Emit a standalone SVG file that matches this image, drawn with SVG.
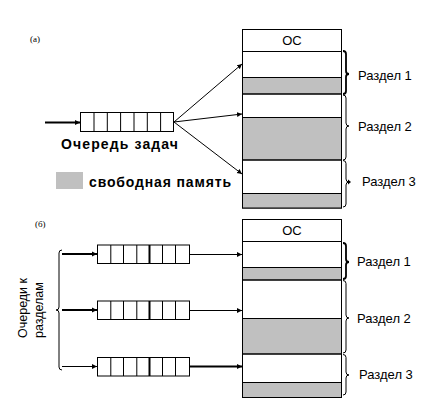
<svg xmlns="http://www.w3.org/2000/svg" width="426" height="413" viewBox="0 0 426 413">
<style>
.box{fill:#fff;stroke:#000;stroke-width:1}
.free{fill:#c0c0c0;stroke:#000;stroke-width:1}
.ln{stroke:#000;stroke-width:1;fill:none}
.thick{stroke:#000;stroke-width:2;fill:none}
.brace{stroke:#000;stroke-width:1;fill:none}
.t{font-family:"Liberation Sans",Arial,sans-serif;font-size:13px;fill:#000}
.r{font-family:"Liberation Sans",Arial,sans-serif;font-size:12.5px;fill:#000}
.b{font-family:"Liberation Sans",Arial,sans-serif;font-size:14px;font-weight:bold;fill:#000}
.s{font-family:"Liberation Serif","Times New Roman",serif;font-size:9px;fill:#000}
</style>
<defs>
<marker id="ah" markerWidth="6" markerHeight="6" refX="5" refY="3" orient="auto" markerUnits="userSpaceOnUse">
<path d="M0,0.5 L5,3 L0,5.5 Z" fill="#000"/>
</marker>
<g id="q7">
<rect class="box" x="0" y="0" width="92" height="18.5"/>
<path class="ln" d="M13.3,0V18.5M26,0V18.5M39.3,0V18.5M65,0V18.5M78,0V18.5"/>
<path class="thick" d="M52,0V18.5"/>
</g>
</defs>

<text class="s" x="30" y="42">(а)</text>
<text class="s" x="35" y="227">(б)</text>

<!-- top memory -->
<g id="memA">
<rect class="box" x="242.5" y="29.5" width="99" height="178.5"/>
<rect class="free" x="242.5" y="77.5" width="99" height="16.5"/>
<rect class="free" x="242.5" y="117.5" width="99" height="42.5"/>
<rect class="free" x="242.5" y="193.5" width="99" height="14.5"/>
<path class="ln" d="M242.5,51.5H341.5M242.5,94H341.5M242.5,160H341.5"/>
<text class="t" x="292" y="45" text-anchor="middle" font-size="12">ОС</text>
</g>

<!-- bottom memory -->
<g id="memB">
<rect class="box" x="242.5" y="219.5" width="99" height="178"/>
<rect class="free" x="242.5" y="267.5" width="99" height="12.5"/>
<rect class="free" x="242.5" y="318.5" width="99" height="35.5"/>
<rect class="free" x="242.5" y="382.5" width="99" height="15"/>
<path class="ln" d="M242.5,241.5H341.5M242.5,280H341.5M242.5,354H341.5"/>
<text class="t" x="292" y="235" text-anchor="middle" font-size="12">ОС</text>
</g>

<!-- top queue -->
<g id="queueA">
<rect class="box" x="80.5" y="112.5" width="93" height="19"/>
<path class="ln" d="M94,112.5V131.5M107.3,112.5V131.5M120.6,112.5V131.5M134,112.5V131.5M147.3,112.5V131.5M160.6,112.5V131.5"/>
<text class="b" x="61" y="149" textLength="117" lengthAdjust="spacing">Очередь задач</text>
</g>

<g id="legend">
<rect x="56" y="172" width="27" height="17" fill="#c0c0c0"/>
<text class="b" x="89" y="187" textLength="142" lengthAdjust="spacing">свободная память</text>
</g>

<!-- bottom queues -->
<g id="queue1"><use href="#q7" x="97.5" y="245"/></g>
<g id="queue2"><use href="#q7" x="97.5" y="301"/></g>
<g id="queue3"><use href="#q7" x="97.5" y="357.5"/></g>

<!-- labels top -->
<g id="partsA">
<path class="thick" d="M343,51 q3,0 3,3 V71 q0,3 3,3 q-3,0 -3,3 V91 q0,3 -3,3" style="stroke-width:1.8"/>
<path class="brace" d="M343,95 q3,0 3,3 V123 q0,3 3,3 q-3,0 -3,3 V157 q0,3 -3,3"/>
<path class="brace" d="M343,160.5 q3,0 3,3 V179 q0,3 3,3 q-3,0 -3,3 V204 q0,3 -3,3"/>
<path d="M348,179.5 L351,182 L348,184.5Z" fill="#000"/>
<text class="t" x="358" y="80">Раздел 1</text>
<text class="t" x="358" y="131">Раздел 2</text>
<text class="t" x="362" y="186">Раздел 3</text>
</g>

<g id="partsB">
<path class="thick" d="M343,243 q3,0 3,3 V259 q0,3 3,3 q-3,0 -3,3 V276 q0,3 -3,3" style="stroke-width:1.8"/>
<path class="brace" d="M343,280.5 q3,0 3,3 V315 q0,3 3,3 q-3,0 -3,3 V350 q0,3 -3,3"/>
<path class="brace" d="M343,354.5 q3,0 3,3 V372 q0,3 3,3 q-3,0 -3,3 V392 q0,3 -3,3"/>
<text class="t" x="357" y="266">Раздел 1</text>
<text class="t" x="357" y="323">Раздел 2</text>
<text class="t" x="359" y="379">Раздел 3</text>
</g>

<g id="queuesLabel">
<path class="brace" d="M62,250 q-3,0 -3,3 V307 q0,3 -3,3 q3,0 3,3 V367 q0,3 3,3"/>
<text class="r" transform="translate(27,338) rotate(-90)">Очереди к</text>
<text class="r" transform="translate(43,338) rotate(-90)">разделам</text>
</g>

<!-- connectors -->
<g id="connectors">
<line class="thick" x1="45" y1="122.5" x2="80" y2="122.5" marker-end="url(#ah)"/>
<line class="ln" x1="174" y1="122" x2="242" y2="64" marker-end="url(#ah)"/>
<line class="ln" x1="174" y1="122" x2="242" y2="114" marker-end="url(#ah)"/>
<line class="ln" x1="174" y1="122" x2="242" y2="174" marker-end="url(#ah)"/>

<line class="thick" x1="62" y1="254" x2="97" y2="254" marker-end="url(#ah)"/>
<line class="thick" x1="62" y1="310" x2="97" y2="310" marker-end="url(#ah)"/>
<line class="ln" x1="62" y1="366.5" x2="97" y2="366.5" marker-end="url(#ah)"/>

<line class="ln" x1="189.5" y1="254.5" x2="242" y2="254.5" marker-end="url(#ah)"/>
<line class="ln" x1="189.5" y1="310.5" x2="242" y2="310.5" marker-end="url(#ah)"/>
<line class="thick" x1="189.5" y1="366.5" x2="242" y2="366.5" marker-end="url(#ah)"/>
</g>
</svg>
